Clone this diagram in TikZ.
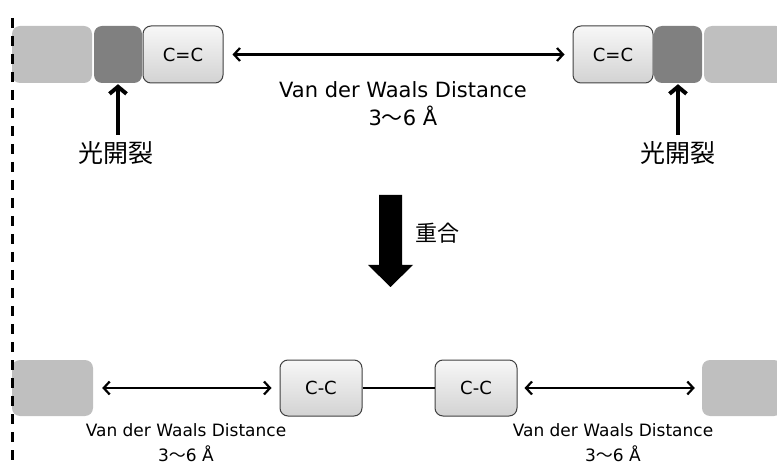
\documentclass[tikz,border=0pt]{standalone}
\usepackage{fontspec}
\setmainfont{DejaVu Sans}
\newfontfamily\jpfont{Noto Sans CJK JP}
\usetikzlibrary{arrows.meta}

\begin{document}
\begin{tikzpicture}[
    x=1pt, y=-1pt,
    block/.style={rounded corners=8pt, minimum height=57pt, inner sep=0pt},
    block_light/.style={block, fill=gray!50, minimum width=80pt},
    block_dark/.style={block, fill=black!50, minimum width=48pt},
    bond_box/.style={block, draw=black!75, line width=1pt, top color=gray!6, bottom color=gray!35,
        minimum width=80pt, font=\fontsize{18}{18}\selectfont},
    vdw_arrow/.style={{Straight Barb[length=6pt,width=13pt]}-{Straight Barb[length=6pt,width=13pt]}, line width=2.2pt},
    cut_arrow/.style={-{Straight Barb[length=7pt,width=17pt]}, line width=4pt},
    cut_label/.style={font=\jpfont\fontsize{25}{25}\selectfont},
    dist_label/.style={align=center, font=\fontsize{21}{28}\selectfont},
    dist_small/.style={align=center, font=\fontsize{17}{25}\selectfont}
]
    \useasboundingbox (0,0) rectangle (777,465);
    % Monomere (oben)
    \node[block_light] (gL) at (52,54.5) {};
    \node[block_dark]  (cL) at (118,54.5) {};
    \node[bond_box]    (bL) at (183,54.5) {C=C};
    \node[bond_box]    (bR) at (613,54.5) {C=C};
    \node[block_dark]  (cR) at (678,54.5) {};
    \node[block_light] (gR) at (744,54.5) {};
    \draw[vdw_arrow, shorten <=9pt, shorten >=8pt] (bL) -- (bR);
    \node[dist_label] (dTop) at (403,104) {Van der Waals Distance\\3{\jpfont ～}6 Å};
    % Spaltstellen
    \node[cut_label] (kL) at (116,153) {光開裂};
    \node[cut_label] (kR) at (678,153) {光開裂};
    \draw[cut_arrow, shorten <=3pt, shorten >=1pt] (kL.north -| cL) -- (cL.south);
    \draw[cut_arrow, shorten <=3pt, shorten >=1pt] (kR.north -| cR) -- (cR.south);
    % Polymerisation
    \fill (379,195) -- (402,195) -- (402,265) -- (413,265) -- (390.5,287)
        -- (368,265) -- (379,265) -- cycle;
    \node[font=\jpfont\fontsize{22}{22}\selectfont] (poly) at (437,233) {重合};
    % Polymer (unten)
    \node[block_light, minimum width=81pt, minimum height=56pt] (gBL) at (52.5,388) {};
    \node[bond_box, minimum width=82pt, minimum height=56pt] (ccL) at (321,388) {C-C};
    \node[bond_box, minimum width=82pt, minimum height=56pt] (ccR) at (476,388) {C-C};
    \node[block_light, minimum height=56pt] (gBR) at (742,388) {};
    \draw[line width=2pt] (ccL) -- (ccR);
    \draw[vdw_arrow, shorten <=9pt, shorten >=8pt] (gBL) -- (ccL);
    \draw[vdw_arrow, shorten <=7pt, shorten >=7pt] (ccR) -- (gBR);
    \node[dist_small] (dBL) at (186,442.5) {Van der Waals Distance\\3{\jpfont ～}6 Å};
    \node[dist_small] (dBR) at (613,442.5) {Van der Waals Distance\\3{\jpfont ～}6 Å};
    % Trennlinie
    \draw[line width=3pt, dash pattern=on 10pt off 8pt] (12,18) -- (12,470);
\end{tikzpicture}
\end{document}
